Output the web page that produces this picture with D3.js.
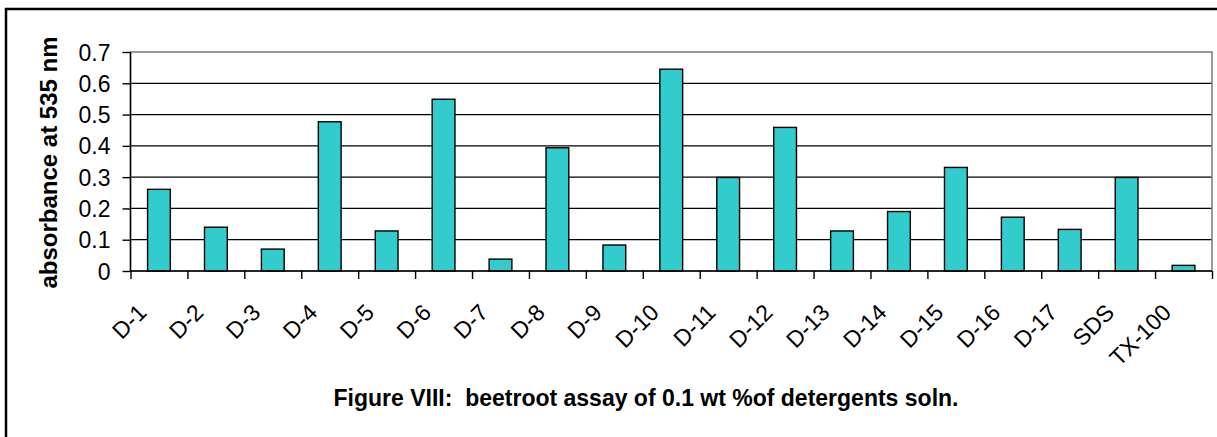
<!DOCTYPE html>
<html>
<head>
<meta charset="utf-8">
<script src="https://cdn.jsdelivr.net/npm/d3@7"></script>
<style>
  html, body { margin: 0; padding: 0; background: #fff; }
  svg { display: block; }
  text { font-family: "Liberation Sans", Arial, sans-serif; fill: #000; }
</style>
</head>
<body>
<svg id="chart" width="1217" height="437"></svg>
<script>
const categories = ["D-1","D-2","D-3","D-4","D-5","D-6","D-7","D-8","D-9","D-10",
                    "D-11","D-12","D-13","D-14","D-15","D-16","D-17","SDS","TX-100"];
const absorbance = [0.261,0.140,0.070,0.477,0.128,0.549,0.038,0.394,0.083,0.645,
                    0.299,0.459,0.128,0.190,0.331,0.172,0.133,0.299,0.018];
const yTicks = [0,0.1,0.2,0.3,0.4,0.5,0.6,0.7];
const yTickLabels = ["0","0.1","0.2","0.3","0.4","0.5","0.6","0.7"];
const yTitle = "absorbance at 535 nm";
const chartTitle = "Figure VIII:  beetroot assay of 0.1 wt %of detergents soln.";

const svg = d3.select("#chart");
const plot = {left: 130.5, right: 1212, top: 52, bottom: 271};

// outer chart border
svg.append("rect").attr("x", 6).attr("y", 9).attr("width", 1400).attr("height", 600)
  .attr("fill", "none").attr("stroke", "#000").attr("stroke-width", 2.5);

const x = d3.scaleBand().domain(categories).range([plot.left, plot.right])
  .paddingInner(0.6).paddingOuter(0.3);
const xIdx = d3.scaleLinear().domain([0, categories.length]).range([plot.left, plot.right]);
const y = d3.scaleLinear().domain([0, 0.7]).range([plot.bottom, plot.top]);

// gridlines
svg.append("g").selectAll("line").data(yTicks.filter(d => d > 0 && d < 0.7)).join("line")
  .attr("x1", plot.left).attr("x2", plot.right)
  .attr("y1", d => y(d)).attr("y2", d => y(d))
  .attr("stroke", "#000").attr("stroke-width", 1.3);

// plot area border (gray)
svg.append("rect").attr("x", plot.left).attr("y", plot.top)
  .attr("width", plot.right - plot.left).attr("height", plot.bottom - plot.top)
  .attr("fill", "none").attr("stroke", "#808080").attr("stroke-width", 1.6);

// bars
svg.append("g").selectAll("rect").data(categories).join("rect")
  .attr("x", d => x(d)).attr("width", x.bandwidth())
  .attr("y", (d, i) => y(absorbance[i]))
  .attr("height", (d, i) => y(0) - y(absorbance[i]))
  .attr("fill", "#33CCCC").attr("stroke", "#000").attr("stroke-width", 1.4);

// y axis
const yAxis = svg.append("g").attr("transform", `translate(${plot.left},0)`)
  .call(d3.axisLeft(y).tickValues(yTicks).tickSize(8).tickPadding(12)
    .tickFormat((d, i) => yTickLabels[i]));
yAxis.selectAll("path, line").attr("stroke", "#000").attr("stroke-width", 1.4);
yAxis.select(".domain").attr("d", `M0,${plot.top}V${plot.bottom}`);
yAxis.selectAll("text").style("font-size", "23px").attr("dy", "0.35em");

// x axis (ticks at category boundaries)
const xAxis = svg.append("g").attr("transform", `translate(0,${plot.bottom})`)
  .call(d3.axisBottom(xIdx).tickValues(d3.range(categories.length + 1)).tickSize(8)
    .tickFormat(""));
xAxis.selectAll("path, line").attr("stroke", "#000").attr("stroke-width", 1.4);
xAxis.select(".domain").attr("d", `M${plot.left},0H${plot.right}`);

// x labels rotated
svg.append("g").selectAll("text").data(categories).join("text")
  .attr("text-anchor", "end")
  .attr("transform", d => `translate(${x(d) + x.bandwidth() / 2 - 11},314) rotate(-45)`)
  .style("font-size", "23px")
  .text(d => d);

// y title
svg.append("text")
  .attr("transform", `translate(57,${(plot.top + plot.bottom) / 2 + 1}) rotate(-90)`)
  .attr("text-anchor", "middle")
  .style("font-size", "24px").style("font-weight", "bold")
  .text(yTitle);

// chart title
svg.append("text")
  .attr("x", 646).attr("y", 406)
  .attr("text-anchor", "middle")
  .style("font-size", "23px").style("font-weight", "bold")
  .style("white-space", "pre")
  .text(chartTitle);
</script>
</body>
</html>
